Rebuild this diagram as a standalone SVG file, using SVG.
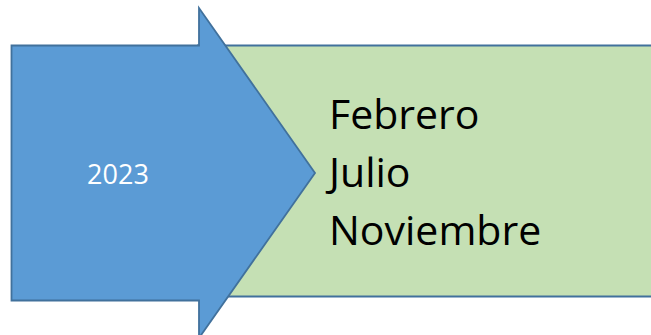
<svg xmlns="http://www.w3.org/2000/svg" width="651" height="335" viewBox="0 0 651 335">
<style>
.box{fill:#C5E0B4;stroke:#41719C;stroke-width:2}
.arrow{fill:#5B9BD5;stroke:#41719C;stroke-width:1.8;stroke-linejoin:miter}
.t{font-family:"Open Sans","Liberation Sans",sans-serif}
</style>
<rect width="651" height="335" fill="#FFFFFF"/>
<g id="months">
<rect class="box" x="198" y="45.5" width="470" height="251"/>
<text class="t" x="329" y="129.3" font-size="41" fill="#000000">Febrero</text>
<text class="t" x="329" y="187" font-size="41" fill="#000000">Julio</text>
<text class="t" x="329" y="245" font-size="41" fill="#000000">Noviembre</text>
</g>
<g id="year">
<polygon class="arrow" points="11.5,45.5 199,45.5 199,8 315,173 199,338 199,300.5 11.5,300.5"/>
<text class="t" x="118" y="184.3" font-size="27" fill="#FFFFFF" text-anchor="middle">2023</text>
</g>
<g id="connectors"/>
</svg>
